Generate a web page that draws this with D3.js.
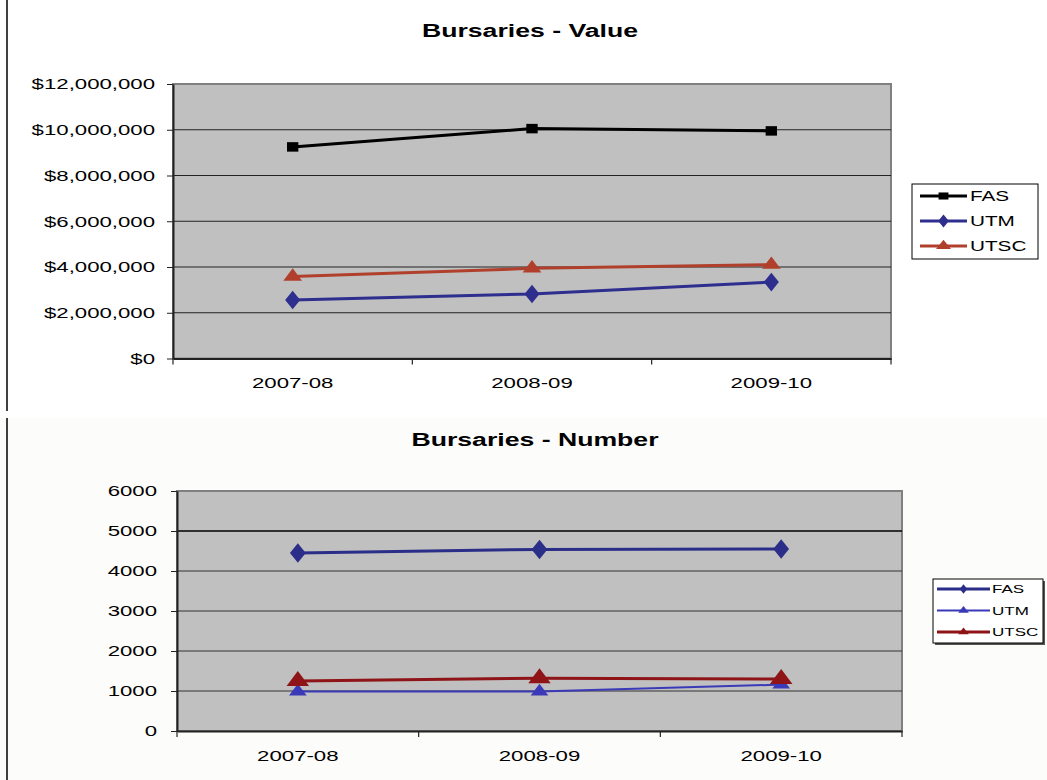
<!DOCTYPE html>
<html><head><meta charset="utf-8">
<script src="https://cdn.jsdelivr.net/npm/d3@7"></script>
<style>body{margin:0;background:#fff;}svg{display:block;font-family:Arial,"Liberation Sans",sans-serif;}</style>
</head><body>
<svg id="c" width="1047" height="780"></svg>
<script>
const categories = ["2007-08", "2008-09", "2009-10"];
const seriesNames = ["FAS", "UTM", "UTSC"];
// Chart 1: Bursaries - Value
const valueFAS = [9250000, 10050000, 9950000];
const valueUTM = [2560000, 2820000, 3340000];
const valueUTSC = [3580000, 3940000, 4100000];
const valueTicks = [0, 2000000, 4000000, 6000000, 8000000, 10000000, 12000000];
// Chart 2: Bursaries - Number
const numberFAS = [4450, 4540, 4550];
const numberUTM = [985, 985, 1160];
const numberUTSC = [1250, 1320, 1300];
const numberTicks = [0, 1000, 2000, 3000, 4000, 5000, 6000];

const STRETCH = 1.48; // the reference's text is horizontally widened
function stretch(sel){
  sel.each(function(){
    const t = d3.select(this);
    const ax = +t.attr("x") || 0;
    t.attr("transform", `translate(${ax},0) scale(${STRETCH},1) translate(${-ax},0)`);
  });
}

const svg = d3.select("#c");
svg.append("rect").attr("x",0).attr("y",418).attr("width",1047).attr("height",362).attr("fill","#fcfcfa");
svg.append("line").attr("x1",7).attr("x2",7).attr("y1",0).attr("y2",411).attr("stroke","#000").attr("stroke-width",1.5);
svg.append("line").attr("x1",7).attr("x2",7).attr("y1",418).attr("y2",780).attr("stroke","#000").attr("stroke-width",1.5);

const symSquare = d3.symbol().type(d3.symbolSquare);
const symDiamond = d3.symbol().type(d3.symbolDiamond);
const symTriangle = d3.symbol().type(d3.symbolTriangle);

function drawChart(cfg){
  const g = svg.append("g");
  const x = d3.scaleBand().domain(categories).range([cfg.left, cfg.right]);
  const y = d3.scaleLinear().domain([0, d3.max(cfg.ticks)]).range([cfg.bottom, cfg.top]);
  g.append("rect").attr("x",cfg.left).attr("y",cfg.top).attr("width",cfg.right-cfg.left).attr("height",cfg.bottom-cfg.top)
    .attr("fill","#c0c0c0").attr("stroke","#808080").attr("stroke-width",2);
  g.selectAll(".grid").data(cfg.ticks.filter(t=>t>0 && t<d3.max(cfg.ticks))).join("line")
    .attr("x1",cfg.left).attr("x2",cfg.right).attr("y1",d=>y(d)).attr("y2",d=>y(d))
    .attr("stroke",d=>cfg.gridColor(d)).attr("stroke-width",d=>cfg.gridWidth(d));
  const ya = g.append("g").attr("transform",`translate(${cfg.left},0)`)
    .call(d3.axisLeft(y).tickValues(cfg.ticks).tickFormat(cfg.fmt).tickSize(6).tickSizeOuter(0));
  ya.select(".domain").attr("stroke","#222").attr("stroke-width",2);
  ya.selectAll(".tick line").attr("stroke","#222");
  ya.selectAll("text").attr("font-size",cfg.tickFont).attr("fill","#000").attr("x",-cfg.labelGap).call(stretch);
  const xa = g.append("g").attr("transform",`translate(0,${cfg.bottom})`)
    .call(d3.axisBottom(x).tickSize(0).tickSizeOuter(0));
  xa.select(".domain").attr("stroke","#222").attr("stroke-width",2);
  xa.selectAll("text").attr("font-size",cfg.tickFont).attr("fill","#000").attr("dy",0).attr("y",cfg.xLabelDy).call(stretch);
  const bounds = categories.map(c=>x(c)).concat([cfg.right]);
  g.selectAll(".xt").data(bounds).join("line").attr("x1",d=>d).attr("x2",d=>d)
    .attr("y1",cfg.bottom).attr("y2",cfg.bottom+6).attr("stroke","#222").attr("stroke-width",1.2);
  g.append("text").attr("x",cfg.titleX).attr("y",cfg.titleY).attr("text-anchor","middle")
    .attr("font-size",18).attr("font-weight","bold").text(cfg.title).call(stretch);
  const line = d3.line().x((d,i)=>x(categories[i])+x.bandwidth()/2).y(d=>y(d));
  cfg.series.forEach(s=>{
    g.append("path").datum(s.values).attr("d",line).attr("fill","none").attr("stroke",s.color).attr("stroke-width",s.width);
    g.selectAll(null).data(s.values).join("path")
      .attr("d",s.sym.size(s.size)())
      .attr("transform",(d,i)=>`translate(${x(categories[i])+x.bandwidth()/2},${y(d)}) scale(${s.sx||1},1)`)
      .attr("fill",s.color);
  });
  const L = cfg.legend;
  if (L.shadow) g.append("rect").attr("x",L.x+2).attr("y",L.y+2).attr("width",L.w).attr("height",L.h).attr("fill","#555");
  g.append("rect").attr("x",L.x).attr("y",L.y).attr("width",L.w).attr("height",L.h).attr("fill","#fff").attr("stroke","#000").attr("stroke-width",1);
  cfg.series.forEach((s,i)=>{
    const yy = L.y + L.first + i*L.step;
    g.append("line").attr("x1",L.x+L.lx1).attr("x2",L.x+L.lx2).attr("y1",yy).attr("y2",yy).attr("stroke",s.color).attr("stroke-width",s.width);
    g.append("path").attr("d",s.sym.size(L.symSize)()).attr("transform",`translate(${L.x+(L.lx1+L.lx2)/2},${yy}) scale(1.4,1)`).attr("fill",s.color);
    g.append("text").attr("x",L.x+L.tx).attr("y",yy).attr("dy","0.36em").attr("font-size",L.font).text(seriesNames[i]).call(stretch);
  });
}

drawChart({
  title:"Bursaries - Value", titleX:530, titleY:37,
  left:173, right:891, top:84, bottom:358.5,
  ticks:valueTicks, fmt:d=>"$"+d3.format(",")(d), tickFont:15, labelGap:18, xLabelDy:30,
  gridColor:()=>"#222", gridWidth:()=>1,
  series:[
    {values:valueFAS, color:"#000000", width:3, sym:symSquare, size:90, sx:1.2},
    {values:valueUTM, color:"#2e2e8f", width:3, sym:symDiamond, size:100, sx:1.4},
    {values:valueUTSC, color:"#b0402c", width:3, sym:symTriangle, size:90, sx:1.3}
  ],
  legend:{x:912, y:184, w:126, h:75, first:12, step:25, lx1:8, lx2:55, tx:58, font:14, symSize:50, shadow:false}
});

drawChart({
  title:"Bursaries - Number", titleX:535, titleY:446,
  left:177, right:902, top:491, bottom:731,
  ticks:numberTicks, fmt:d=>String(d), tickFont:15, labelGap:20, xLabelDy:30,
  gridColor:d=>d===5000?"#000":"#333", gridWidth:d=>d===5000?1.5:1,
  series:[
    {values:numberFAS, color:"#2b2e88", width:3, sym:symDiamond, size:110, sx:1.4},
    {values:numberUTM, color:"#3a3ab8", width:2, sym:symTriangle, size:80, sx:1.3},
    {values:numberUTSC, color:"#8e1418", width:3, sym:symTriangle, size:130, sx:1.3}
  ],
  legend:{x:933, y:579, w:110, h:64, first:10, step:21.5, lx1:4, lx2:57, tx:59, font:11.5, symSize:25, shadow:true}
});
</script>
</body></html>
